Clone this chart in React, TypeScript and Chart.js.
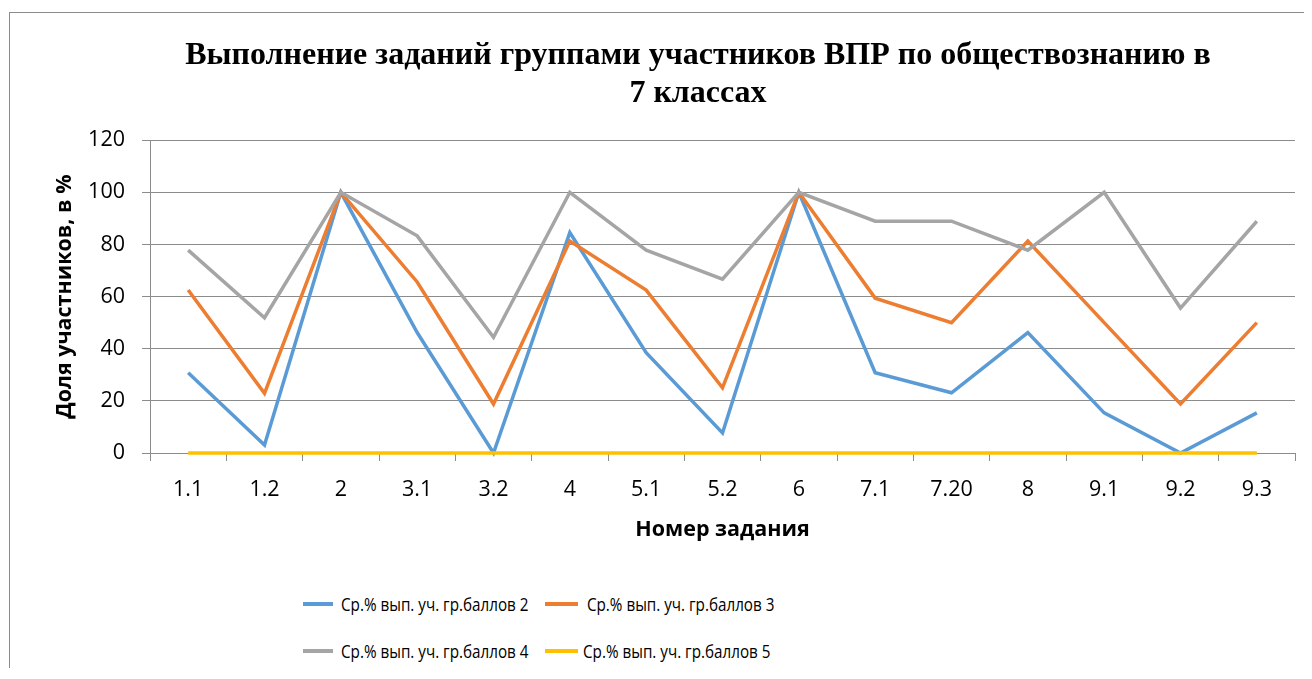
import React, { useEffect, useRef } from "react";
import { Chart, registerables } from "chart.js";

Chart.register(...registerables);

const categories = ["1.1", "1.2", "2", "3.1", "3.2", "4", "5.1", "5.2", "6", "7.1", "7.20", "8", "9.1", "9.2", "9.3"];
const group2 = [30.8, 3.1, 100, 46.2, 0, 84.6, 38.5, 7.7, 100, 30.8, 23.1, 46.2, 15.4, 0, 15.4];
const group3 = [62.5, 22.9, 100, 65.6, 18.8, 81.3, 62.5, 25, 100, 59.4, 50, 81.3, 50, 18.8, 50];
const group4 = [77.8, 51.9, 100, 83.3, 44.4, 100, 77.8, 66.7, 100, 88.9, 88.9, 77.8, 100, 55.6, 88.9];
const group5 = [0, 0, 0, 0, 0, 0, 0, 0, 0, 0, 0, 0, 0, 0, 0];
const seriesLabels = [
  "Ср.% вып. уч. гр.баллов 2",
  " Ср.% вып. уч. гр.баллов 3",
  "Ср.% вып. уч. гр.баллов 4",
  "Ср.% вып. уч. гр.баллов 5",
];
const seriesColors = ["#5B9BD5", "#ED7D31", "#A5A5A5", "#FFC000"];
const titleLines = ["Выполнение заданий группами участников ВПР по обществознанию в", "7 классах"];
const yTitle = "Доля участников, в %";
const xTitle = "Номер задания";

const gridColor = "#8c8c8c";
const sans = "'Open Sans', 'Liberation Sans', sans-serif";

export default function App() {
  const ref = useRef<HTMLCanvasElement>(null);

  useEffect(() => {
    const seriesData = [group2, group3, group4, group5];
    const chart = new Chart(ref.current!, {
      type: "line",
      data: {
        labels: categories,
        datasets: seriesData.map((d, i) => ({
          label: seriesLabels[i],
          data: d,
          borderColor: seriesColors[i],
          backgroundColor: seriesColors[i],
          borderWidth: 3.5,
          pointRadius: 0,
          tension: 0,
          fill: false,
          clip: false,
          order: 3 - i,
        })),
      },
      options: {
        responsive: false,
        animation: false,
        layout: { padding: 0 },
        plugins: {
          legend: { display: false },
          tooltip: { enabled: false },
          title: {
            display: true,
            text: titleLines,
            color: "#000",
            font: { family: "'Liberation Serif', 'Times New Roman', serif", size: 32, weight: "bold", lineHeight: 1.19 },
            padding: { top: 24, bottom: 27 },
          },
        },
        scales: {
          x: {
            offset: true,
            grid: {
              display: true,
              drawOnChartArea: false,
              drawTicks: true,
              tickLength: 8,
              offset: true,
              color: gridColor,
            },
            border: { display: true, color: gridColor },
            ticks: {
              color: "#000",
              font: { family: sans, size: 21.5 },
              padding: 16,
              autoSkip: false,
              maxRotation: 0,
            },
            title: {
              display: true,
              text: xTitle,
              color: "#000",
              font: { family: sans, size: 21.5, weight: "bold" },
              padding: { top: 0, bottom: 17 },
            },
            afterFit: (s: any) => {
              s.height = 107;
            },
          },
          y: {
            min: 0,
            max: 120,
            ticks: {
              stepSize: 20,
              color: "#000",
              font: { family: sans, size: 21.5 },
              padding: 17,
            },
            grid: { color: gridColor, lineWidth: 1, tickLength: 8, drawTicks: true },
            border: { display: true, color: gridColor },
            title: {
              display: true,
              text: yTitle,
              color: "#000",
              font: { family: sans, size: 21.5, weight: "bold" },
              padding: { top: 42, bottom: 0 },
            },
            afterFit: (s: any) => {
              s.width = 140;
            },
          },
          y2: {
            position: "right",
            display: true,
            grid: { display: false },
            ticks: { display: false },
            border: { display: false },
            afterFit: (s: any) => {
              s.width = 91;
            },
          },
        },
      },
    });
    return () => chart.destroy();
  }, []);

  const legendItems = [
    { row: 596, lineX: 295, lineW: 30, textX: 333 },
    { row: 596, lineX: 537, lineW: 33, textX: 575 },
    { row: 643, lineX: 295, lineW: 30, textX: 333 },
    { row: 643, lineX: 537, lineW: 33, textX: 575 },
  ];

  return (
    <div style={{ position: "relative", width: 1304, height: 660, overflow: "hidden" }}>
      <div
        style={{
          position: "absolute",
          left: 1,
          top: 4,
          width: 1500,
          height: 800,
          borderLeft: "1px solid #8c8c8c",
          borderTop: "1px solid #8c8c8c",
        }}
      />
      <canvas
        ref={ref}
        width={1376}
        height={547}
        style={{ position: "absolute", left: 2, top: 5, width: 1376, height: 547 }}
      />
      {legendItems.map((it, i) => (
        <React.Fragment key={i}>
          <div
            style={{
              position: "absolute",
              left: it.lineX,
              top: it.row - 2,
              width: it.lineW,
              height: 4,
              background: seriesColors[i],
            }}
          />
          <div
            style={{
              position: "absolute",
              left: it.textX,
              top: it.row - 13,
              height: 26,
              lineHeight: "26px",
              fontFamily: sans,
              fontSize: 17.5,
              color: "#000",
              whiteSpace: "pre",
              transform: "scaleX(0.87)",
              transformOrigin: "left center",
            }}
          >
            {seriesLabels[i]}
          </div>
        </React.Fragment>
      ))}
    </div>
  );
}
